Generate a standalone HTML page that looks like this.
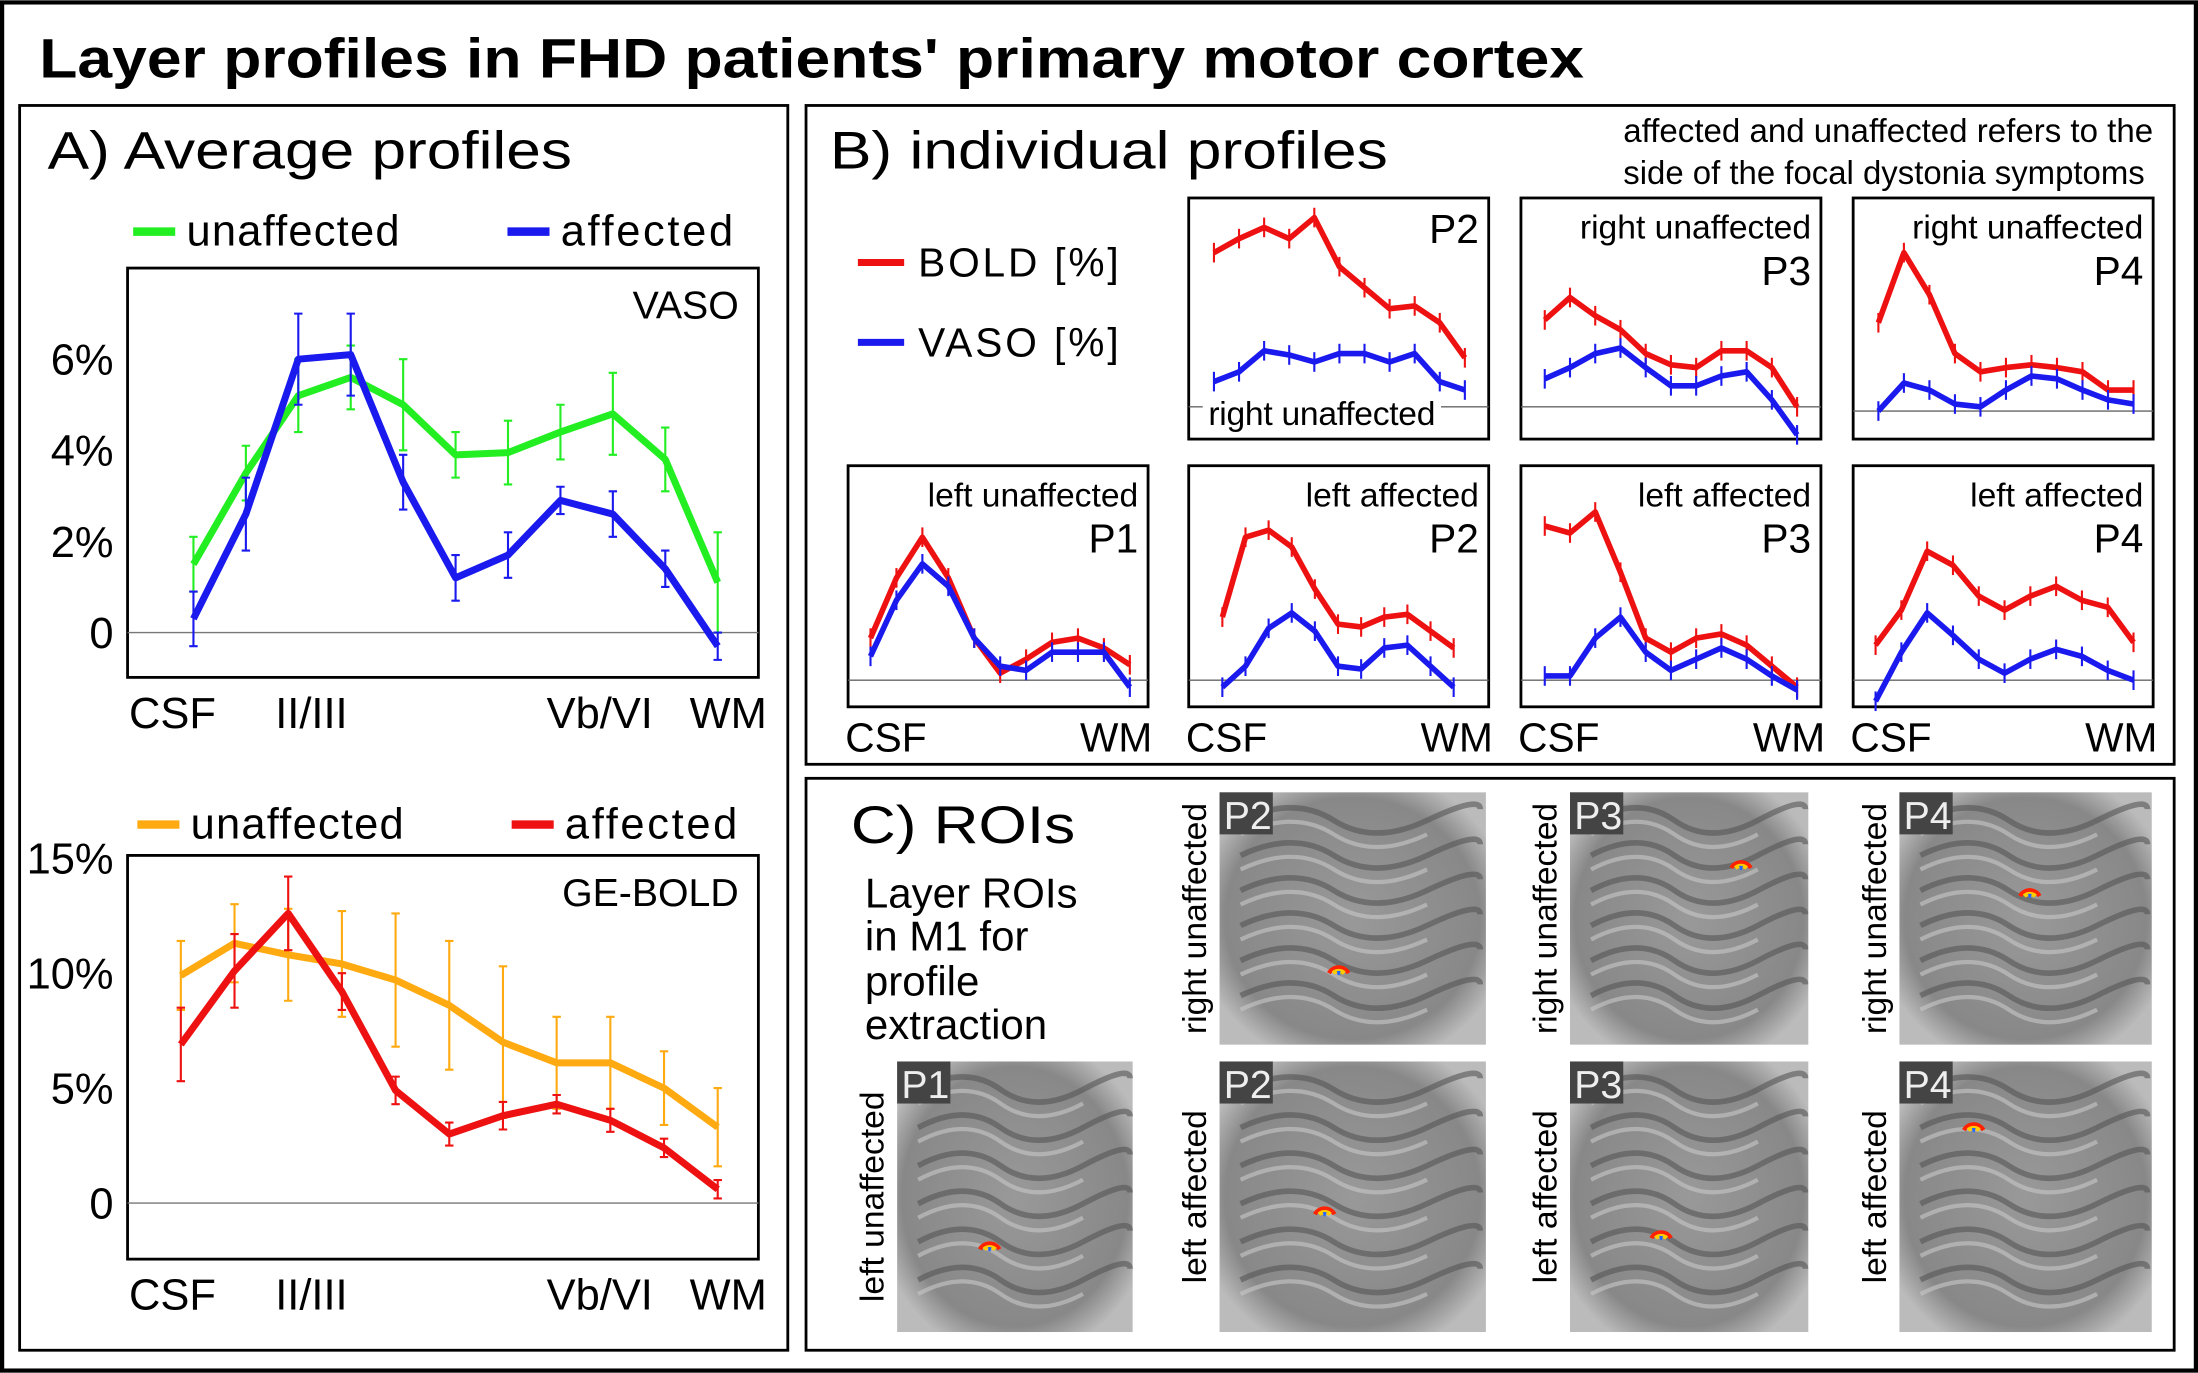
<!DOCTYPE html>
<html><head><meta charset="utf-8">
<style>
html,body{margin:0;padding:0;background:#fff;}
svg{display:block;font-family:"Liberation Sans",sans-serif;}
.cond{font-family:"Liberation Sans Narrow","Liberation Sans",sans-serif;}
</style></head>
<body>
<svg id="fig" width="2198" height="1373" viewBox="0 0 1568 979" xmlns="http://www.w3.org/2000/svg">
<defs>
<radialGradient id="brainG" cx="50%" cy="50%" r="60%">
<stop offset="0%" stop-color="#999"/><stop offset="80%" stop-color="#888"/><stop offset="100%" stop-color="#bbb"/>
</radialGradient>
</defs>
<rect x="1.5" y="1.5" width="1565" height="976" fill="#fff" stroke="#000" stroke-width="3"/>
<text x="28" y="55" font-size="40" font-weight="bold" textLength="1102" lengthAdjust="spacingAndGlyphs">Layer profiles in FHD patients' primary motor cortex</text>
<rect x="14" y="75" width="548" height="888" fill="none" stroke="#000" stroke-width="2"/>
<rect x="575" y="75" width="976" height="470" fill="none" stroke="#000" stroke-width="2"/>
<rect x="575" y="555" width="976" height="408" fill="none" stroke="#000" stroke-width="2"/>
<text x="34" y="120" font-size="38" textLength="374" lengthAdjust="spacingAndGlyphs">A) Average profiles</text>
<text x="592" y="120" font-size="38" textLength="398" lengthAdjust="spacingAndGlyphs">B) individual profiles</text>
<text x="1158" y="101" font-size="24" textLength="378" lengthAdjust="spacingAndGlyphs">affected and unaffected refers to the</text>
<text x="1158" y="131" font-size="24" textLength="372" lengthAdjust="spacingAndGlyphs">side of the focal dystonia symptoms</text>
<text x="607" y="601" font-size="38" textLength="160" lengthAdjust="spacingAndGlyphs">C) ROIs</text>
<g font-size="30">
<text x="617" y="647">Layer ROIs</text><text x="617" y="678">in  M1 for</text><text x="617" y="710">profile</text><text x="617" y="741">extraction</text>
</g>
<g id="plots"></g>
</svg>
<script>
// ---- Panel A data ----
const vasoGreen = [1.5, 3.5, 5.2, 5.6, 5.0, 3.9, 3.95, 4.4, 4.8, 3.8, 1.1];
const vasoGreenErr = [0.6, 0.6, 0.8, 0.7, 1.0, 0.5, 0.7, 0.6, 0.9, 0.7, 1.1];
const vasoBlue = [0.3, 2.6, 6.0, 6.1, 3.3, 1.2, 1.7, 2.9, 2.6, 1.4, -0.3];
const vasoBlueErr = [0.6, 0.8, 1.0, 0.9, 0.6, 0.5, 0.5, 0.3, 0.5, 0.4, 0.3];
const boldOrange = [9.9, 11.3, 10.8, 10.4, 9.7, 8.6, 7.0, 6.1, 6.1, 5.0, 3.3];
const boldOrangeErr = [1.5, 1.7, 2.0, 2.3, 2.9, 2.8, 3.3, 2.0, 2.0, 1.6, 1.7];
const boldRed = [6.9, 10.1, 12.6, 9.2, 4.9, 3.0, 3.8, 4.3, 3.6, 2.4, 0.6];
const boldRedErr = [1.6, 1.6, 1.6, 0.8, 0.6, 0.5, 0.6, 0.4, 0.5, 0.4, 0.4];
const vasoTicks = [0, 2, 4, 6];
const vasoTickLabels = ["0", "2%", "4%", "6%"];
const boldTicks = [0, 5, 10, 15];
const boldTickLabels = ["0", "5%", "10%", "15%"];
const xCatLabels = ["CSF", "II/III", "Vb/VI", "WM"];
const xCatPos = [-0.4, 2.25, 7.75, 10.2];
// ---- Panel B data (individual profiles, arbitrary % units) ----
const p2RightBold = [11, 12, 12.8, 12, 13.5, 10, 8.5, 7, 7.2, 6, 3.5];
const p2RightVaso = [1.8, 2.5, 4, 3.7, 3.2, 3.8, 3.8, 3.2, 3.8, 1.8, 1.2];
const p3RightBold = [6.2, 7.8, 6.5, 5.5, 3.8, 3, 2.8, 4, 4, 2.8, 0];
const p3RightVaso = [2, 2.8, 3.8, 4.2, 2.8, 1.5, 1.5, 2.2, 2.5, 0.5, -2];
const p4RightBold = [6.3, 11.3, 8.3, 4.1, 2.8, 3.1, 3.3, 3.1, 2.8, 1.5, 1.5];
const p4RightVaso = [0, 2, 1.5, 0.5, 0.3, 1.5, 2.5, 2.3, 1.5, 0.8, 0.5];
const p1LeftBold = [3.0, 7.3, 10.2, 7.3, 3.0, 0.5, 1.5, 2.7, 3.0, 2.3, 1.1];
const p1LeftVaso = [1.7, 5.7, 8.3, 6.7, 3.0, 1.0, 0.7, 2.0, 2.0, 2.0, -0.5];
const p2LeftBold = [4.5, 10.2, 10.7, 9.5, 6.5, 4, 3.8, 4.5, 4.7, 3.5, 2.3];
const p2LeftVaso = [-0.5, 1, 3.7, 4.8, 3.5, 1, 0.8, 2.3, 2.5, 1, -0.5];
const p3LeftBold = [11, 10.5, 12, 7.7, 3, 2, 3, 3.3, 2.5, 1, -0.5];
const p3LeftVaso = [0.3, 0.3, 3, 4.5, 2, 0.7, 1.5, 2.3, 1.5, 0.3, -0.7];
const p4LeftBold = [2.5, 5, 9.2, 8.2, 6, 5, 6, 6.7, 5.7, 5.2, 2.7];
const p4LeftVaso = [-1.5, 2, 4.8, 3.2, 1.5, 0.5, 1.5, 2.2, 1.7, 0.7, 0];

const NS = "http://www.w3.org/2000/svg";
const root = document.getElementById('plots');
function mk(tag, attrs, parent) {
  const e = document.createElementNS(NS, tag);
  for (const k in attrs) e.setAttribute(k, attrs[k]);
  (parent || root).appendChild(e);
  return e;
}
function txt(x, y, s, size, anchor, parent) {
  const t = mk('text', {x: x, y: y, 'font-size': size, 'text-anchor': anchor || 'start'}, parent);
  t.textContent = s;
  return t;
}
const labelX = p => 138 + p * 37.4;

function bigPlot(cfg) {
  const g = mk('g', {});
  
  
  const X = i => cfg.x0 + i * cfg.dx;
  const Y = v => cfg.yZero - v * cfg.pxPer;
  const fr = mk('rect', {x: cfg.bx, y: cfg.by, width: cfg.bw, height: cfg.bh, fill: 'none', stroke: '#000', 'stroke-width': 2}, g);
  
  
  const zl = mk('line', {x1: cfg.bx, x2: cfg.bx + cfg.bw, y1: Y(0), y2: Y(0), stroke: '#777', 'stroke-width': 1}, g);
  
  
  cfg.ticks.forEach((v, i) => {
    const t = txt(cfg.bx - 10, Y(v) + 11, cfg.tickLabels[i], 31, 'end', g);
    
    
  });
  xCatLabels.forEach((s, i) => {
    const t = txt(labelX(xCatPos[i]), cfg.by + cfg.bh + 36, s, 31, 'middle', g);
    
    
  });
  const lbl = txt(cfg.bx + cfg.bw - 14, cfg.by + 36, cfg.label, 28, 'end', g);
  
  
  cfg.series.forEach(s => {
    const sg = mk('g', {}, g);
    
    
    s.vals.forEach((v, i) => {
      const e = mk('path', {d: `M${X(i)},${Y(v - s.err[i])}V${Y(v + s.err[i])}M${X(i)-3},${Y(v - s.err[i])}h6M${X(i)-3},${Y(v + s.err[i])}h6`, stroke: s.color, 'stroke-width': 1.5, fill: 'none'}, sg);
      
      
    });
    const l = mk('polyline', {points: s.vals.map((v, i) => X(i) + ',' + Y(v)).join(' '), stroke: s.color, 'stroke-width': 5, fill: 'none', 'stroke-linejoin': 'round'}, sg);
    
    
  });
  cfg.legend.forEach(L => {
    const lg = mk('g', {}, g);
    
    
    mk('line', {x1: L.x, x2: L.x + 30, y1: L.y, y2: L.y, stroke: L.color, 'stroke-width': 6}, lg);
    const t = txt(L.x + 38, L.y + 10, L.text, 31, 'start', lg);
    t.setAttribute('textLength', L.tl);
  });
}

bigPlot({name: 'vaso-average-chart', bx: 91, by: 191, bw: 450, bh: 292, x0: 138, dx: 37.4, yZero: 451, pxPer: 32.5,
  ticks: vasoTicks, tickLabels: vasoTickLabels, label: 'VASO',
  series: [{name: 'vaso-unaffected-series', vals: vasoGreen, err: vasoGreenErr, color: '#22ee22'},
           {name: 'vaso-affected-series', vals: vasoBlue, err: vasoBlueErr, color: '#1a1aee'}],
  legend: [{x: 95, y: 165, color: '#22ee22', text: 'unaffected', tl: 152}, {x: 362, y: 165, color: '#1a1aee', text: 'affected', tl: 123}]});
bigPlot({name: 'bold-average-chart', bx: 91, by: 610, bw: 450, bh: 288, x0: 129, dx: 38.3, yZero: 858, pxPer: 16.4,
  ticks: boldTicks, tickLabels: boldTickLabels, label: 'GE-BOLD',
  series: [{name: 'bold-unaffected-series', vals: boldOrange, err: boldOrangeErr, color: '#ffaa11'},
           {name: 'bold-affected-series', vals: boldRed, err: boldRedErr, color: '#ee1111'}],
  legend: [{x: 98, y: 588, color: '#ffaa11', text: 'unaffected', tl: 152}, {x: 365, y: 588, color: '#ee1111', text: 'affected', tl: 123}]});

// Panel B legend
[{y: 187, c: '#ee1111', t: 'BOLD [%]'}, {y: 244, c: '#1a1aee', t: 'VASO [%]'}].forEach(L => {
  const lg = mk('g', {});
  
  
  mk('line', {x1: 612, x2: 645, y1: L.y, y2: L.y, stroke: L.c, 'stroke-width': 5}, lg);
  const t = txt(655, L.y + 10, L.t, 29, 'start', lg);
  t.setAttribute('textLength', 143);
});

function smallPlot(cfg) {
  const g = mk('g', {});
  
  
  const dx = (cfg.xEnd - cfg.x0) / 10;
  const X = i => cfg.x0 + i * dx;
  const Y = v => cfg.base - v * 10;
  mk('rect', {x: cfg.bx, y: cfg.by, width: 214, height: 172, fill: 'none', stroke: '#000', 'stroke-width': 2}, g);
  mk('line', {x1: cfg.bx, x2: cfg.bx + 214, y1: cfg.base, y2: cfg.base, stroke: '#666', 'stroke-width': 1}, g);
  [[cfg.bold, '#ee1111'], [cfg.vaso, '#1a1aee']].forEach(([vals, c]) => {
    vals.forEach((v, i) => {
      const e = mk('line', {x1: X(i), x2: X(i), y1: Y(v) - 7, y2: Y(v) + 7, stroke: c, 'stroke-width': 1.5}, g);
      
      
    });
    const l = mk('polyline', {points: vals.map((v, i) => X(i) + ',' + Y(v)).join(' '), stroke: c, 'stroke-width': 4, fill: 'none', 'stroke-linejoin': 'round'}, g);
    
    
  });
  if (cfg.bottomLabel) {
    mk('rect', {x: cfg.bx + 10, y: cfg.by + 140, width: 170, height: 26, fill: '#fff'}, g);
    const t = txt(cfg.bx + 14, cfg.by + 162, cfg.side, 24, 'start', g);
    t.setAttribute('class', 'cond');
    t.setAttribute('textLength', 162);
    txt(cfg.bx + 207, cfg.by + 32, cfg.p, 29, 'end', g);
  } else {
    const t = txt(cfg.bx + 207, cfg.by + 29, cfg.side, 24, 'end', g);
    t.setAttribute('class', 'cond');
    txt(cfg.bx + 207, cfg.by + 62, cfg.p, 29, 'end', g);
  }
  if (cfg.xlab) {
    txt(cfg.bx - 2, 536, 'CSF', 29, 'start', g);
    txt(cfg.bx + 217, 536, 'WM', 29, 'end', g);
  }
}
smallPlot({name: 'p2-right-chart', bx: 848, by: 141, x0: 866, xEnd: 1045, base: 290, bold: p2RightBold, vaso: p2RightVaso, side: 'right unaffected', p: 'P2', bottomLabel: true});
smallPlot({name: 'p3-right-chart', bx: 1085, by: 141, x0: 1102, xEnd: 1282, base: 290, bold: p3RightBold, vaso: p3RightVaso, side: 'right unaffected', p: 'P3'});
smallPlot({name: 'p4-right-chart', bx: 1322, by: 141, x0: 1340, xEnd: 1522, base: 293, bold: p4RightBold, vaso: p4RightVaso, side: 'right unaffected', p: 'P4'});
smallPlot({name: 'p1-left-chart', bx: 605, by: 332, x0: 621, xEnd: 806, base: 485, bold: p1LeftBold, vaso: p1LeftVaso, side: 'left unaffected', p: 'P1', xlab: true});
smallPlot({name: 'p2-left-chart', bx: 848, by: 332, x0: 872, xEnd: 1037, base: 485, bold: p2LeftBold, vaso: p2LeftVaso, side: 'left affected', p: 'P2', xlab: true});
smallPlot({name: 'p3-left-chart', bx: 1085, by: 332, x0: 1102, xEnd: 1282, base: 485, bold: p3LeftBold, vaso: p3LeftVaso, side: 'left affected', p: 'P3', xlab: true});
smallPlot({name: 'p4-left-chart', bx: 1322, by: 332, x0: 1338, xEnd: 1522, base: 485, bold: p4LeftBold, vaso: p4LeftVaso, side: 'left affected', p: 'P4', xlab: true});

// Panel C brain images
const brains = [
  {x: 870, y: 565, w: 190, h: 180, p: 'P2', side: 'right unaffected', rx: 955, ry: 688},
  {x: 1120, y: 565, w: 170, h: 180, p: 'P3', side: 'right unaffected', rx: 1242, ry: 613},
  {x: 1355, y: 565, w: 180, h: 180, p: 'P4', side: 'right unaffected', rx: 1448, ry: 633},
  {x: 640, y: 757, w: 168, h: 193, p: 'P1', side: 'left unaffected', rx: 706, ry: 885},
  {x: 870, y: 757, w: 190, h: 193, p: 'P2', side: 'left affected', rx: 945, ry: 860},
  {x: 1120, y: 757, w: 170, h: 193, p: 'P3', side: 'left affected', rx: 1185, ry: 877},
  {x: 1355, y: 757, w: 180, h: 193, p: 'P4', side: 'left affected', rx: 1408, ry: 800}
];
brains.forEach(b => {
  const g = mk('g', {});
  
  
  mk('rect', {x: b.x, y: b.y, width: b.w, height: b.h, fill: 'url(#brainG)'}, g);
  for (let k = 0; k < 6; k++) {
    const yy = b.y + 20 + k * (b.h - 30) / 6;
    mk('path', {d: `M${b.x+15},${yy} q${b.w*0.2},-18 ${b.w*0.35},0 t${b.w*0.35},0 t${b.w*0.2},-8`, stroke: '#555', 'stroke-width': 4, fill: 'none', opacity: 0.6}, g);
    mk('path', {d: `M${b.x+15},${yy+10} q${b.w*0.2},-18 ${b.w*0.35},0 t${b.w*0.35},0`, stroke: '#c8c8c8', 'stroke-width': 3, fill: 'none', opacity: 0.6}, g);
  }
  ['#ff2200', '#ffcc00', '#2266ff'].forEach((c, k) => {
    mk('path', {d: `M${b.rx - 7 + k*3},${b.ry + 6} a${8 - k*2},${8 - k*2} 0 0 1 ${14 - k*6},0`, stroke: c, 'stroke-width': 3, fill: 'none'}, g);
  });
  mk('rect', {x: b.x, y: b.y, width: 38, height: 30, fill: '#444'}, g);
  const pt = txt(b.x + 3, b.y + 26, b.p, 28, 'start', g);
  pt.setAttribute('fill', '#eee');
  const cx = b.x - 16, cy = b.y + b.h / 2;
  const st = txt(cx, cy, b.side, 24, 'middle', g);
  st.setAttribute('class', 'cond');
  st.setAttribute('transform', `rotate(-90 ${cx} ${cy})`);
  st.setAttribute('dominant-baseline', 'middle');
});
</script>
</body></html>
